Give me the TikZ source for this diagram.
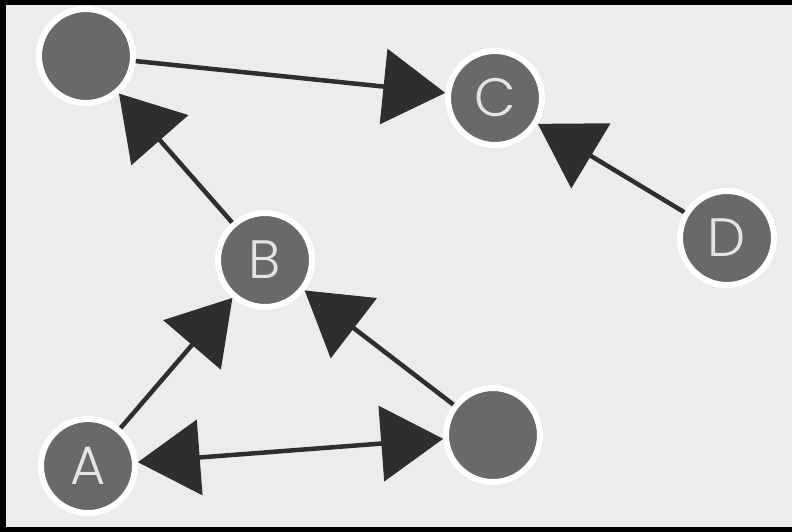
\documentclass[tikz,border=0pt]{standalone}
\usepackage{fontspec}
\newfontfamily\labfont{Poppins Light}
\usetikzlibrary{arrows.meta}
\definecolor{bg}{HTML}{ECECEC}
\definecolor{nodefill}{HTML}{696969}
\definecolor{arrowcol}{HTML}{2E2E2E}
\definecolor{labcol}{HTML}{E4E4E4}
\tikzset{
  vertex/.style={circle, fill=nodefill, draw=white, line width=6pt, minimum size=94pt, inner sep=0pt,
    font=\labfont\fontsize{54}{54}\selectfont, text=labcol},
  link/.style={draw=arrowcol, line width=4.5pt, -{Triangle[length=62pt, width=75pt]}},
  dlink/.style={draw=arrowcol, line width=4.5pt, {Triangle[length=62pt, width=75pt]}-{Triangle[length=62pt, width=75pt]}}
}
\begin{document}
\begin{tikzpicture}[x=1pt, y=-1pt]
  \useasboundingbox (0,0) rectangle (792,532);
  \fill[bg] (0,0) rectangle (800,540);
  \fill[black] (-2,-2) rectangle (6,534);
  \fill[black] (-2,-2) rectangle (800,5);
  \fill[black] (-2,527) rectangle (800,534);
  \node[vertex] (tl) at (86,56) {};
  \node[vertex] (c) at (495,98) {C};
  \node[vertex] (d) at (727,238) {D};
  \node[vertex] (b) at (265,260) {B};
  \node[vertex] (a) at (88,466) {A};
  \node[vertex] (br) at (493,435) {};
  \draw[link] (tl) -- (c);
  \draw[link] (d) -- (c);
  \draw[link] (b) -- (tl);
  \draw[link] (a) -- (b);
  \draw[link] (br) -- (b);
  \draw[dlink] (a) -- (br);
\end{tikzpicture}
\end{document}
